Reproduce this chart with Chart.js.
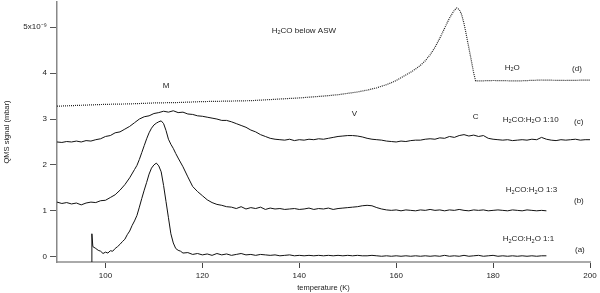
<!DOCTYPE html>
<html>
<head>
<meta charset="utf-8">
<script src="https://cdn.jsdelivr.net/npm/chart.js@4.4.0/dist/chart.umd.min.js"></script>
<style>
html, body { margin: 0; padding: 0; background: #fff; }
#wrap { width: 600px; height: 293px; }
</style>
</head>
<body>
<div id="wrap"><canvas id="tpd"></canvas></div>
<script>
// axis ticks
const xTicks = [100, 120, 140, 160, 180, 200];
const yTicks = [0, 1, 2, 3, 4, 5];

// (a) H2CO:H2O 1:1
const tempA = [97.2, 97.2, 97.4, 98, 98.5, 99, 99.5, 100, 100.5, 101, 101.5, 102, 102.5, 103, 103.5, 104, 104.5, 105, 105.5, 106, 106.5, 107, 107.5, 108, 108.5, 109, 109.5, 110, 110.5, 111, 111.5, 112, 112.5, 113, 113.5, 114, 114.5, 115, 115.5,
  116, 117, 118, 119, 120, 121, 122, 123, 124, 125, 126, 127, 128, 129, 130, 131, 132, 133, 134, 135, 136, 137, 138, 139, 140,
  141, 142, 143, 144, 145, 146, 147, 148, 149, 150, 151, 152, 153, 154, 155, 156, 157, 158, 159, 160, 161, 162, 163, 164, 165,
  166, 167, 168, 169, 170, 171, 172, 173, 174, 175, 176, 177, 178, 179, 180, 181, 182, 183, 184, 185, 186, 187, 188, 189, 190, 191];
const sigA = [-0.12, 0.50, 0.22, 0.18, 0.14, 0.12, 0.07, 0.10, 0.08, 0.13, 0.12, 0.18, 0.22, 0.27, 0.33, 0.38, 0.48, 0.56, 0.68, 0.78, 0.90, 1.08, 1.27, 1.45, 1.62, 1.80, 1.93, 2.00, 2.04, 1.98, 1.85, 1.55, 1.20, 0.85, 0.50, 0.30, 0.18, 0.14, 0.12,
  0.08, 0.09, 0.05, 0.07, 0.04, 0.06, 0.03, 0.07, 0.04, 0.06, 0.03, 0.05, 0.07, 0.04, 0.05, 0.03, 0.05, 0.04, 0.03, 0.04, 0.02, 0.03, 0.04, 0.02, 0.03,
  0.02, 0.03, 0.02, 0.03, 0.02, 0.03, 0.02, 0.03, 0.02, 0.03, 0.02, 0.03, 0.02, 0.02, 0.03, 0.02, 0.01, 0.02, 0.01, 0.02, 0.01, 0.02, 0.01, 0.02, 0.01,
  0.02, 0.01, 0.02, 0.01, 0.03, 0.01, 0.02, 0.01, 0.03, 0.01, 0.02, 0.03, 0.01, 0.02, 0.03, 0.01, 0.02, 0.01, 0.02, 0.01, 0.02, 0.01, 0.02, 0.01, 0.02, 0.02];

// (b) H2CO:H2O 1:3
const tempB = [90, 91, 92, 93, 94, 95, 96, 97, 98, 99, 100, 101, 102, 103, 104, 105, 106, 106.5, 107, 107.5, 108, 108.5, 109, 109.5, 110, 110.5, 111, 111.5, 112, 112.5, 113, 113.5, 114, 114.5, 115,
  116, 117, 118, 119, 120, 121, 122, 123, 124, 125, 126, 127, 128, 129, 130, 131, 132, 133, 134, 135, 136, 137, 138, 139, 140,
  141, 142, 143, 144, 145, 146, 147, 148, 149, 150, 151, 152, 153, 154, 155, 156, 157, 158, 159, 160, 161, 162, 163, 164, 165,
  166, 167, 168, 169, 170, 171, 172, 173, 174, 175, 176, 177, 178, 179, 180, 181, 182, 183, 184, 185, 186, 187, 188, 189, 190, 191];
const sigB = [1.19, 1.16, 1.18, 1.15, 1.17, 1.13, 1.17, 1.19, 1.18, 1.22, 1.23, 1.29, 1.35, 1.45, 1.57, 1.72, 1.90, 1.99, 2.12, 2.27, 2.42, 2.57, 2.70, 2.80, 2.87, 2.91, 2.94, 2.96, 2.90, 2.75, 2.56, 2.45, 2.36, 2.25, 2.15,
  1.96, 1.74, 1.53, 1.42, 1.33, 1.24, 1.18, 1.14, 1.12, 1.09, 1.08, 1.05, 1.09, 1.04, 1.07, 1.05, 1.08, 1.03, 1.06, 1.04, 1.05, 1.03, 1.04, 1.05, 1.03,
  1.04, 1.06, 1.03, 1.05, 1.04, 1.06, 1.03, 1.05, 1.06, 1.07, 1.08, 1.09, 1.11, 1.12, 1.11, 1.07, 1.04, 1.02, 1.01, 1.02, 1.00, 1.02, 1.01, 1.00, 1.02,
  1.01, 1.03, 1.01, 1.02, 1.00, 1.02, 1.01, 1.03, 1.01, 1.00, 1.02, 1.01, 1.02, 1.00, 1.01, 1.02, 1.01, 1.00, 1.02, 1.01, 1.00, 1.02, 1.01, 1.00, 1.01, 1.00];

// (c) H2CO:H2O 1:10
const tempC = [90, 91, 92, 93, 94, 95, 96, 97, 98, 99, 100, 101, 102, 103, 104, 105, 106, 107, 108, 109, 110,
  111, 112, 113, 114, 115, 116, 117, 118, 119, 120, 121, 122, 123, 124, 125, 126, 127, 128, 129, 130,
  131, 132, 133, 134, 135, 136, 137, 138, 139, 140, 141, 142, 143, 144, 145, 146, 147, 148, 149, 150,
  151, 152, 153, 154, 155, 156, 157, 158, 159, 160, 161, 162, 163, 164, 165, 166, 167, 168, 169, 170,
  171, 172, 173, 174, 175, 176, 177, 178, 179, 180, 181, 182, 183, 184, 185, 186, 187, 188, 189, 190,
  191, 192, 193, 194, 195, 196, 197, 198, 199, 200];
const sigC = [2.50, 2.49, 2.51, 2.50, 2.52, 2.50, 2.53, 2.52, 2.55, 2.57, 2.62, 2.64, 2.70, 2.72, 2.78, 2.84, 2.92, 3.00, 3.05, 3.07, 3.12,
  3.14, 3.17, 3.15, 3.18, 3.14, 3.15, 3.11, 3.10, 3.07, 3.06, 3.04, 3.02, 3.00, 2.97, 2.97, 2.94, 2.90, 2.86, 2.82, 2.76,
  2.72, 2.66, 2.62, 2.58, 2.56, 2.55, 2.54, 2.56, 2.53, 2.55, 2.54, 2.56, 2.55, 2.57, 2.56, 2.58, 2.60, 2.62, 2.63, 2.64,
  2.64, 2.63, 2.61, 2.58, 2.56, 2.55, 2.54, 2.52, 2.51, 2.50, 2.52, 2.51, 2.53, 2.54, 2.54, 2.56, 2.57, 2.56, 2.59, 2.58,
  2.62, 2.60, 2.64, 2.66, 2.63, 2.65, 2.62, 2.64, 2.58, 2.56, 2.55, 2.54, 2.55, 2.53, 2.54, 2.55, 2.54, 2.56, 2.55, 2.60,
  2.56, 2.54, 2.53, 2.55, 2.54, 2.55, 2.56, 2.54, 2.55, 2.55];

// (d) H2O
const tempD = [90, 95, 100, 105, 110, 115, 120, 125, 130, 135, 140, 145, 148, 150, 152, 154, 156, 158, 159, 160, 161, 162, 163, 164, 165, 166, 167, 168, 169, 170, 171, 172, 172.5, 173, 173.5, 174, 174.5, 175, 175.5, 176, 176.4, 177, 180, 185, 190, 195, 200];
const sigD = [3.28, 3.30, 3.32, 3.33, 3.35, 3.36, 3.38, 3.39, 3.40, 3.43, 3.46, 3.50, 3.53, 3.56, 3.59, 3.63, 3.68, 3.75, 3.79, 3.84, 3.90, 3.96, 4.02, 4.09, 4.17, 4.27, 4.40, 4.56, 4.76, 4.98, 5.20, 5.37, 5.42, 5.39, 5.28, 5.08, 4.82, 4.55, 4.28, 4.00, 3.83, 3.83, 3.84, 3.83, 3.85, 3.84, 3.85];

// 図中の注記（データ座標）
const notes = [
  { t: 134.3, v: 4.92, text: 'H_2CO below ASW', align: 'left' },
  { t: 112.5, v: 3.72, text: 'M', align: 'center' },
  { t: 151.4, v: 3.11, text: 'V', align: 'center' },
  { t: 176.4, v: 3.05, text: 'C', align: 'center' },
  { t: 182.4, v: 4.12, text: 'H_2O', align: 'left' },
  { t: 196.3, v: 4.09, text: '(d)', align: 'left' },
  { t: 182.0, v: 2.99, text: 'H_2CO:H_2O 1:10', align: 'left' },
  { t: 196.7, v: 2.93, text: '(c)', align: 'left' },
  { t: 182.6, v: 1.45, text: 'H_2CO:H_2O 1:3', align: 'left' },
  { t: 196.7, v: 1.21, text: '(b)', align: 'left' },
  { t: 182.0, v: 0.38, text: 'H_2CO:H_2O 1:1', align: 'left' },
  { t: 196.9, v: 0.16, text: '(a)', align: 'left' }
];

const FONT = "'Liberation Sans', Arial, sans-serif";

function toPoints(ts, vs) {
  return ts.map((t, i) => ({ x: t, y: vs[i] }));
}

// 下付き文字つきテキストを分割
function splitRich(text) {
  const parts = [];
  let buf = '';
  for (let i = 0; i < text.length; i++) {
    if (text[i] === '_' && i + 1 < text.length) {
      if (buf) parts.push({ s: buf, sub: false });
      buf = '';
      parts.push({ s: text[i + 1], sub: true });
      i++;
    } else {
      buf += text[i];
    }
  }
  if (buf) parts.push({ s: buf, sub: false });
  return parts;
}

const notePlugin = {
  id: 'notes',
  afterDatasetsDraw(chart) {
    const ctx = chart.ctx;
    const xs = chart.scales.x, ys = chart.scales.y;
    ctx.save();
    ctx.fillStyle = '#222';
    ctx.textBaseline = 'middle';
    ctx.textAlign = 'left';
    notes.forEach(n => {
      const parts = splitRich(n.text);
      let w = 0;
      parts.forEach(p => {
        ctx.font = (p.sub ? 5.5 : 8) + 'px ' + FONT;
        p.w = ctx.measureText(p.s).width;
        w += p.w;
      });
      let x = xs.getPixelForValue(n.t);
      const y = ys.getPixelForValue(n.v);
      if (n.align === 'center') x -= w / 2;
      parts.forEach(p => {
        ctx.font = (p.sub ? 5.5 : 8) + 'px ' + FONT;
        ctx.fillText(p.s, x, p.sub ? y + 2 : y);
        x += p.w;
      });
    });
    ctx.restore();
  }
};

const lineStyle = { borderColor: '#111', borderWidth: 1, pointRadius: 0, tension: 0, fill: false };

new Chart(document.getElementById('tpd'), {
  type: 'line',
  data: {
    datasets: [
      Object.assign({ label: 'H2O (d)', data: toPoints(tempD, sigD) }, lineStyle, { borderColor: '#222', borderDash: [1, 1], borderWidth: 1.2 }),
      Object.assign({ label: 'H2CO:H2O 1:10 (c)', data: toPoints(tempC, sigC) }, lineStyle),
      Object.assign({ label: 'H2CO:H2O 1:3 (b)', data: toPoints(tempB, sigB) }, lineStyle),
      Object.assign({ label: 'H2CO:H2O 1:1 (a)', data: toPoints(tempA, sigA) }, lineStyle)
    ]
  },
  options: {
    responsive: true,
    maintainAspectRatio: false,
    animation: false,
    layout: { padding: { top: 2, right: 10, left: 0, bottom: 0 } },
    plugins: { legend: { display: false }, tooltip: { enabled: false } },
    scales: {
      x: {
        type: 'linear',
        min: 90,
        max: 200,
        afterBuildTicks: s => { s.ticks = xTicks.map(v => ({ value: v })); },
        afterFit: s => { s.height = 31; s.paddingLeft = 0; s.paddingRight = 0; },
        ticks: { font: { family: FONT, size: 8 }, color: '#222', padding: 3, maxRotation: 0 },
        grid: { drawOnChartArea: false, tickLength: 6, tickColor: '#444' },
        border: { color: '#aaa', width: 2 },
        title: { display: true, text: 'temperature (K)', color: '#222', font: { family: FONT, size: 7.5 }, padding: { top: 0, bottom: 1 } }
      },
      y: {
        type: 'linear',
        min: -0.115,
        max: 5.55,
        afterBuildTicks: s => { s.ticks = yTicks.map(v => ({ value: v })); },
        afterFit: s => { s.width = 57; s.paddingTop = 0; s.paddingBottom = 0; },
        ticks: {
          font: { family: FONT, size: 8 }, color: '#222', padding: 3,
          callback: v => (v === 5 ? '5x10\u207B\u2079' : String(v))
        },
        grid: { drawOnChartArea: false, tickLength: 7, tickColor: '#555' },
        border: { color: '#888', width: 1.5 },
        title: { display: true, text: 'QMS signal (mbar)', color: '#222', font: { family: FONT, size: 7.5 }, padding: { top: 2, bottom: 0 } }
      }
    }
  },
  plugins: [notePlugin]
});
</script>
</body>
</html>
